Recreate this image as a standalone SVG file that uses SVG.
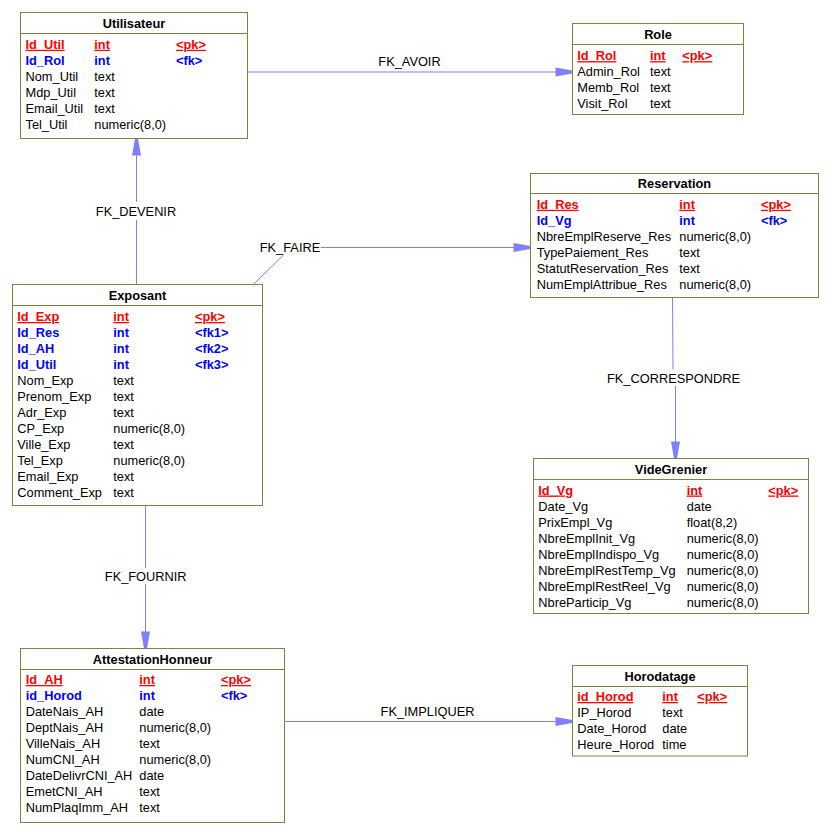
<svg xmlns="http://www.w3.org/2000/svg" width="832" height="839" viewBox="0 0 832 839">
<style>
text{font-family:"Liberation Sans",Arial,sans-serif;font-size:12.8px;fill:#000}
.box{fill:#fff;stroke:#808040;stroke-width:1}
.ttl{font-weight:bold;text-anchor:middle}
.pk{fill:#f00;font-weight:bold;text-decoration:underline}
.fk{fill:#00f;font-weight:bold}
.ln{fill:none;stroke:#8080ff;stroke-width:1}
.lbl{text-anchor:middle}
</style>
<defs>
<marker id="arr" markerUnits="userSpaceOnUse" viewBox="-18 -5 19 10" markerWidth="19" markerHeight="10" refX="0" refY="0" orient="auto">
<path d="M-17,-4.5 L0,-1.5 L0,1.5 L-17,4.5 Z" fill="#8080ff"/>
</marker>
</defs>
<rect width="832" height="839" fill="#fff"/>
<g id="connectors">
<line class="ln" x1="248" y1="72" x2="572.5" y2="72" marker-end="url(#arr)"/>
<text class="lbl" x="409.5" y="65.5">FK_AVOIR</text>
<line class="ln" x1="136.5" y1="284.5" x2="136.5" y2="220"/>
<line class="ln" x1="136.5" y1="202" x2="136.5" y2="138.5" marker-end="url(#arr)"/>
<text class="lbl" x="136" y="215.5">FK_DEVENIR</text>
<line class="ln" x1="253.3" y1="284.5" x2="283.5" y2="255"/>
<line class="ln" x1="320.7" y1="247.5" x2="530.5" y2="247.5" marker-end="url(#arr)"/>
<text class="lbl" x="290" y="252">FK_FAIRE</text>
<line class="ln" x1="672.5" y1="297.5" x2="673" y2="369.5"/>
<line class="ln" x1="675.5" y1="386" x2="675.5" y2="458.5" marker-end="url(#arr)"/>
<text class="lbl" x="673.5" y="382.5">FK_CORRESPONDRE</text>
<line class="ln" x1="145.5" y1="505.5" x2="145.5" y2="568"/>
<line class="ln" x1="145.5" y1="584" x2="145.5" y2="648.5" marker-end="url(#arr)"/>
<text class="lbl" x="145.7" y="580.5">FK_FOURNIR</text>
<line class="ln" x1="284.5" y1="721.5" x2="572.5" y2="721.5" marker-end="url(#arr)"/>
<text class="lbl" x="427.5" y="715.5">FK_IMPLIQUER</text>
</g>
<g id="Utilisateur">
<rect class="box" x="20.5" y="12.5" width="227" height="126"/>
<line class="box" x1="20.5" y1="33.5" x2="247.5" y2="33.5"/>
<text class="ttl" x="134" y="27.5">Utilisateur</text>
<text class="pk" x="25.5" y="48.8">Id_Util</text><text class="pk" x="94.3" y="48.8">int</text><text class="pk" x="176" y="48.8">&lt;pk&gt;</text>
<text class="fk" x="25.5" y="64.8">Id_Rol</text><text class="fk" x="94.3" y="64.8">int</text><text class="fk" x="176" y="64.8">&lt;fk&gt;</text>
<text x="25.5" y="80.8">Nom_Util</text><text x="94.3" y="80.8">text</text>
<text x="25.5" y="96.8">Mdp_Util</text><text x="94.3" y="96.8">text</text>
<text x="25.5" y="112.8">Email_Util</text><text x="94.3" y="112.8">text</text>
<text x="25.5" y="128.8">Tel_Util</text><text x="94.3" y="128.8">numeric(8,0)</text>
</g>
<g id="Role">
<rect class="box" x="572.5" y="23.5" width="171" height="91"/>
<line class="box" x1="572.5" y1="44.5" x2="743.5" y2="44.5"/>
<text class="ttl" x="658" y="38.5">Role</text>
<text class="pk" x="577.3" y="60.2">Id_Rol</text><text class="pk" x="650" y="60.2">int</text><text class="pk" x="682.3" y="60.2">&lt;pk&gt;</text>
<text x="577.3" y="76.2">Admin_Rol</text><text x="650" y="76.2">text</text>
<text x="577.3" y="92.2">Memb_Rol</text><text x="650" y="92.2">text</text>
<text x="577.3" y="108.2">Visit_Rol</text><text x="650" y="108.2">text</text>
</g>
<g id="Reservation">
<rect class="box" x="530.5" y="173.5" width="288" height="124"/>
<line class="box" x1="530.5" y1="193.5" x2="818.5" y2="193.5"/>
<text class="ttl" x="674.5" y="187.8">Reservation</text>
<text class="pk" x="536.7" y="208.8">Id_Res</text><text class="pk" x="679.3" y="208.8">int</text><text class="pk" x="761" y="208.8">&lt;pk&gt;</text>
<text class="fk" x="536.7" y="224.8">Id_Vg</text><text class="fk" x="679.3" y="224.8">int</text><text class="fk" x="761" y="224.8">&lt;fk&gt;</text>
<text x="536.7" y="240.8">NbreEmplReserve_Res</text><text x="679.3" y="240.8">numeric(8,0)</text>
<text x="536.7" y="256.8">TypePaiement_Res</text><text x="679.3" y="256.8">text</text>
<text x="536.7" y="272.8">StatutReservation_Res</text><text x="679.3" y="272.8">text</text>
<text x="536.7" y="288.8">NumEmplAttribue_Res</text><text x="679.3" y="288.8">numeric(8,0)</text>
</g>
<g id="Exposant">
<rect class="box" x="12.5" y="284.5" width="250" height="221"/>
<line class="box" x1="12.5" y1="305.5" x2="262.5" y2="305.5"/>
<text class="ttl" x="137.5" y="299.8">Exposant</text>
<text class="pk" x="17.3" y="321">Id_Exp</text><text class="pk" x="113.3" y="321">int</text><text class="pk" x="195" y="321">&lt;pk&gt;</text>
<text class="fk" x="17.3" y="337">Id_Res</text><text class="fk" x="113.3" y="337">int</text><text class="fk" x="195" y="337">&lt;fk1&gt;</text>
<text class="fk" x="17.3" y="353">Id_AH</text><text class="fk" x="113.3" y="353">int</text><text class="fk" x="195" y="353">&lt;fk2&gt;</text>
<text class="fk" x="17.3" y="369">Id_Util</text><text class="fk" x="113.3" y="369">int</text><text class="fk" x="195" y="369">&lt;fk3&gt;</text>
<text x="17.3" y="385">Nom_Exp</text><text x="113.3" y="385">text</text>
<text x="17.3" y="401">Prenom_Exp</text><text x="113.3" y="401">text</text>
<text x="17.3" y="417">Adr_Exp</text><text x="113.3" y="417">text</text>
<text x="17.3" y="433">CP_Exp</text><text x="113.3" y="433">numeric(8,0)</text>
<text x="17.3" y="449">Ville_Exp</text><text x="113.3" y="449">text</text>
<text x="17.3" y="465">Tel_Exp</text><text x="113.3" y="465">numeric(8,0)</text>
<text x="17.3" y="481">Email_Exp</text><text x="113.3" y="481">text</text>
<text x="17.3" y="497">Comment_Exp</text><text x="113.3" y="497">text</text>
</g>
<g id="VideGrenier">
<rect class="box" x="533.5" y="458.5" width="275" height="155"/>
<line class="box" x1="533.5" y1="479.5" x2="808.5" y2="479.5"/>
<text class="ttl" x="671" y="473.8">VideGrenier</text>
<text class="pk" x="538.3" y="494.5">Id_Vg</text><text class="pk" x="686.7" y="494.5">int</text><text class="pk" x="768.3" y="494.5">&lt;pk&gt;</text>
<text x="538.3" y="510.5">Date_Vg</text><text x="686.7" y="510.5">date</text>
<text x="538.3" y="526.5">PrixEmpl_Vg</text><text x="686.7" y="526.5">float(8,2)</text>
<text x="538.3" y="542.5">NbreEmplInit_Vg</text><text x="686.7" y="542.5">numeric(8,0)</text>
<text x="538.3" y="558.5">NbreEmplIndispo_Vg</text><text x="686.7" y="558.5">numeric(8,0)</text>
<text x="538.3" y="574.5">NbreEmplRestTemp_Vg</text><text x="686.7" y="574.5">numeric(8,0)</text>
<text x="538.3" y="590.5">NbreEmplRestReel_Vg</text><text x="686.7" y="590.5">numeric(8,0)</text>
<text x="538.3" y="606.5">NbreParticip_Vg</text><text x="686.7" y="606.5">numeric(8,0)</text>
</g>
<g id="AttestationHonneur">
<rect class="box" x="20.5" y="648.5" width="264" height="174"/>
<line class="box" x1="20.5" y1="669.5" x2="284.5" y2="669.5"/>
<text class="ttl" x="152.5" y="663.8">AttestationHonneur</text>
<text class="pk" x="25.7" y="684">Id_AH</text><text class="pk" x="139.3" y="684">int</text><text class="pk" x="221" y="684">&lt;pk&gt;</text>
<text class="fk" x="25.7" y="700">id_Horod</text><text class="fk" x="139.3" y="700">int</text><text class="fk" x="221" y="700">&lt;fk&gt;</text>
<text x="25.7" y="716">DateNais_AH</text><text x="139.3" y="716">date</text>
<text x="25.7" y="732">DeptNais_AH</text><text x="139.3" y="732">numeric(8,0)</text>
<text x="25.7" y="748">VilleNais_AH</text><text x="139.3" y="748">text</text>
<text x="25.7" y="764">NumCNI_AH</text><text x="139.3" y="764">numeric(8,0)</text>
<text x="25.7" y="780">DateDelivrCNI_AH</text><text x="139.3" y="780">date</text>
<text x="25.7" y="796">EmetCNI_AH</text><text x="139.3" y="796">text</text>
<text x="25.7" y="812">NumPlaqImm_AH</text><text x="139.3" y="812">text</text>
</g>
<g id="Horodatage">
<rect class="box" x="572.5" y="665.5" width="175" height="90.5"/>
<line class="box" x1="572.5" y1="686.5" x2="747.5" y2="686.5"/>
<text class="ttl" x="660" y="680.8">Horodatage</text>
<text class="pk" x="577.3" y="701">id_Horod</text><text class="pk" x="662.3" y="701">int</text><text class="pk" x="697.3" y="701">&lt;pk&gt;</text>
<text x="577.3" y="717">IP_Horod</text><text x="662.3" y="717">text</text>
<text x="577.3" y="733">Date_Horod</text><text x="662.3" y="733">date</text>
<text x="577.3" y="749">Heure_Horod</text><text x="662.3" y="749">time</text>
</g>
</svg>
